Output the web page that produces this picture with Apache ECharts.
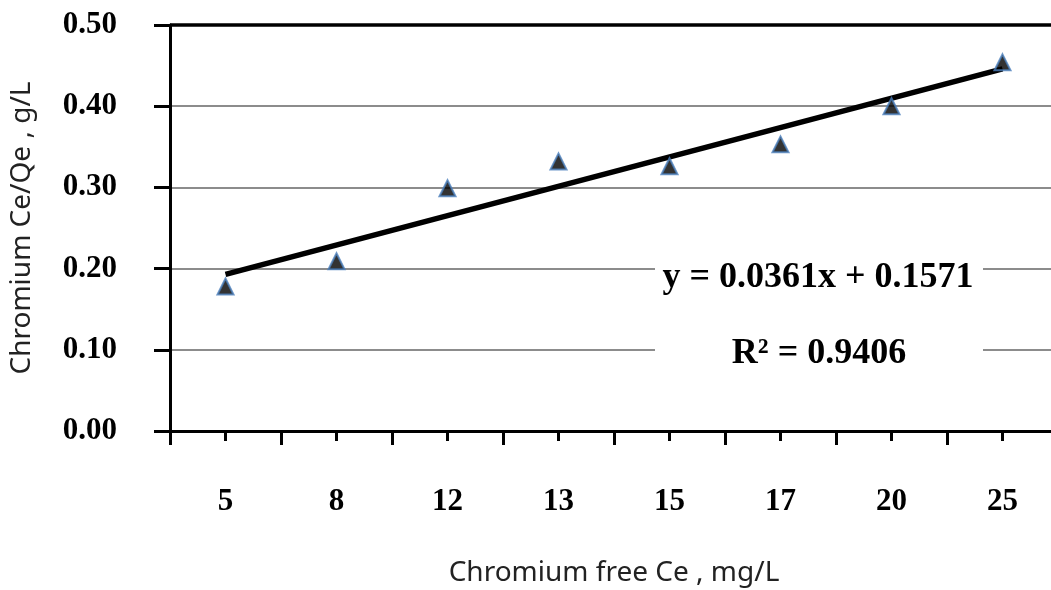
<!DOCTYPE html>
<html>
<head>
<meta charset="utf-8">
<script src="https://cdn.jsdelivr.net/npm/echarts@6/dist/echarts.min.js"></script>
<style>
  html, body { margin: 0; padding: 0; background: #fff; }
  #chart { width: 1051px; height: 590px; }
</style>
</head>
<body>
<div id="chart"></div>
<script>
// Chromium free Ce (mg/L) categories
var ceValues = ['5', '8', '12', '13', '15', '17', '20', '25'];
// Ce/Qe (g/L) measured points
var ceQe = [0.178, 0.209, 0.299, 0.332, 0.326, 0.353, 0.400, 0.454];
// trend line, read at both ends of the drawn line
var trend = [0.193, null, null, null, null, null, null, 0.446];
var yTicks = [0, 0.5, 0.1];
var eqText = 'y = 0.0361x + 0.1571';
var r2Text = 'R² = 0.9406';

var myChart = echarts.init(document.getElementById('chart'));

var serif = '"Liberation Serif", "Times New Roman", serif';

var option = {
  animation: false,
  grid: { left: 170, top: 25, width: 888, height: 406, outerBoundsMode: 'none', containLabel: false },
  xAxis: [
    {
      type: 'category',
      data: ceValues,
      boundaryGap: true,
      name: 'Chromium free Ce , mg/L',
      nameLocation: 'middle',
      nameGap: 128,
      nameTextStyle: { fontFamily: '"Noto Sans", sans-serif', fontSize: 28, color: '#222', verticalAlign: 'top' },
      axisLine: { lineStyle: { color: '#000', width: 3 } },
      axisTick: { show: true, interval: 0, length: 14, lineStyle: { color: '#000', width: 3 } },
      axisLabel: { interval: 0, margin: 55, fontFamily: serif, fontWeight: 'bold', fontSize: 31, color: '#000' },
      splitLine: { show: false }
    },
    {
      // short ticks under each category
      type: 'category',
      data: ceValues,
      position: 'bottom',
      axisLine: { show: false },
      axisTick: { show: true, interval: 0, alignWithLabel: true, length: 10, lineStyle: { color: '#000', width: 3 } },
      axisLabel: { show: false },
      splitLine: { show: false }
    }
  ],
  yAxis: {
    type: 'value',
    min: yTicks[0],
    max: yTicks[1],
    interval: yTicks[2],
    name: 'Chromium Ce/Qe , g/L',
    nameLocation: 'middle',
    nameGap: 134,
    nameTextStyle: { fontFamily: '"Noto Sans", sans-serif', fontSize: 28, color: '#222' },
    axisLine: { show: true, lineStyle: { color: '#000', width: 3 } },
    axisTick: { show: true, length: 16, lineStyle: { color: '#000', width: 3 } },
    axisLabel: {
      margin: 53,
      fontFamily: serif, fontWeight: 'bold', fontSize: 31, color: '#000',
      formatter: function (v) { return v.toFixed(2); }
    },
    splitLine: { lineStyle: { color: '#8c8c8c', width: 2 } }
  },
  graphic: [
    {
      type: 'rect',
      shape: { x: 655, y: 240, width: 328, height: 150 },
      style: { fill: '#fff' },
      z: 5
    },
    {
      type: 'text',
      x: 818, y: 278,
      style: {
        text: eqText, fill: '#000', align: 'center', verticalAlign: 'middle',
        font: 'bold 36px ' + serif
      },
      z: 6
    },
    {
      type: 'text',
      x: 819, y: 354,
      style: {
        text: r2Text, fill: '#000', align: 'center', verticalAlign: 'middle',
        font: 'bold 36px ' + serif
      },
      z: 6
    }
  ],
  series: [
    {
      name: 'trend',
      type: 'line',
      data: trend,
      connectNulls: true,
      showSymbol: false,
      symbol: 'none',
      lineStyle: { color: '#000', width: 5.5 },
      z: 3,
      markLine: {
        silent: true,
        symbol: 'none',
        label: { show: false },
        lineStyle: { color: '#000', width: 3.5, type: 'solid' },
        data: [{ yAxis: yTicks[1] }]
      }
    },
    {
      name: 'Ce/Qe',
      type: 'scatter',
      data: ceQe,
      symbol: 'triangle',
      symbolSize: 16,
      itemStyle: { color: '#000', borderColor: '#4a7ebb', borderWidth: 2 },
      z: 4
    }
  ]
};

myChart.setOption(option);
</script>
</body>
</html>
